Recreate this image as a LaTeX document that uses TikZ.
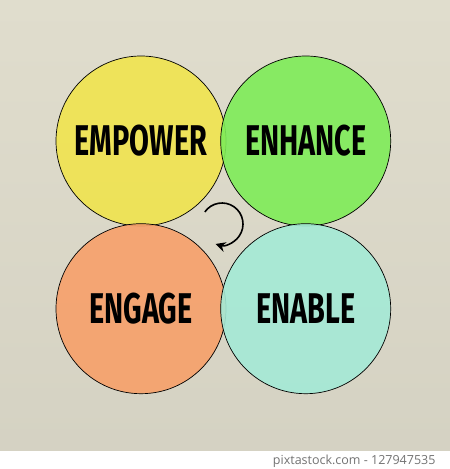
\documentclass[tikz,border=0pt]{standalone}
\usepackage{fontspec}
\usepackage{xcolor}
\usepackage{tikz}
\usetikzlibrary{positioning}
\usetikzlibrary{arrows.meta}

\newfontfamily\handfont{Fira Sans}[FakeStretch=0.67]
\newfontfamily\stampfont{Open Sans}

\definecolor{paper}{RGB}{224,221,205}
\definecolor{paleyellow}{RGB}{240,228,78}
\definecolor{palegreen}{RGB}{126,236,88}
\definecolor{paleorange}{RGB}{247,160,106}
\definecolor{palecyan}{RGB}{164,234,214}

\begin{document}
\begin{tikzpicture}[x=1pt, y=-1pt,
    bubble/.style={circle, draw=black, line width=0.7pt, minimum size=170pt,
      inner sep=0pt, fill opacity=0.9, text opacity=1,
      font=\handfont\bfseries\fontsize{43}{43}\selectfont},
    turnarrow/.style={line width=1.6pt, -{Stealth[length=10pt, width=10pt]}}]
  \useasboundingbox (0,0) rectangle (450,469);
  \shade[top color=paper, bottom color=paper!95!black] (0,0) rectangle (450,451);
  \fill[white] (0,451) rectangle (450,469);

  \node[bubble, fill=paleyellow] (empower) at (141,141) {EMPOWER};
  \node[bubble, fill=palegreen, right=-6pt of empower] (enhance) {ENHANCE};
  \node[bubble, fill=paleorange, below=-3pt of empower] (engage) {ENGAGE};
  \node[bubble, fill=palecyan, below=-3pt of enhance] (enable) {ENABLE};

  % turning arrow between the four
  \coordinate (turn) at (222,224);
  \draw[turnarrow] ([shift={(215:21)}]turn) arc[start angle=215, end angle=468, radius=21];

  \node[anchor=east, text=black!55, font=\stampfont\fontsize{12.5}{13}\selectfont]
    (stamp) at (439,461) {pixtastock.com - 127947535};
\end{tikzpicture}
\end{document}
